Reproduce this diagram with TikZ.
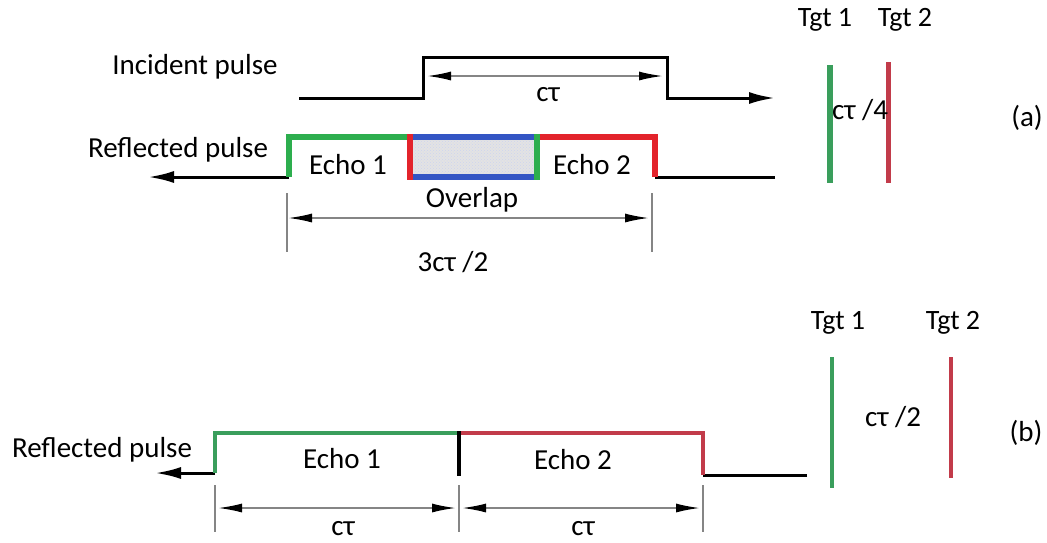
\documentclass[tikz,border=0pt]{standalone}
\usepackage{fontspec}
\setmainfont{Carlito}
\usepackage{xcolor}
\usepackage{tikz}
\usetikzlibrary{arrows.meta, positioning, patterns}
\definecolor{EchoGreen}{HTML}{2DAE4E}
\definecolor{EchoRed}{HTML}{E3232B}
\definecolor{EchoBlue}{HTML}{3355C4}
\definecolor{TgtGreen}{HTML}{3A9E5C}
\definecolor{TgtRed}{HTML}{C23B4A}
\definecolor{DimGray}{HTML}{858585}

\begin{document}
\begin{tikzpicture}[x=1pt, y=-1pt,
  lbl/.style={font=\fontsize{29}{34}\selectfont, inner sep=0pt},
  pulse/.style={black, line width=3pt, line join=miter},
  tip/.style={-{Latex[length=26pt,width=12pt]}},
  dimline/.style={DimGray, line width=1.8pt,
    {Latex[length=24pt,width=9pt,black]}-{Latex[length=24pt,width=9pt,black]}},
  tickline/.style={DimGray, line width=1.8pt}]
  \useasboundingbox (0,0) rectangle (1047,542);
  % (a) Incident pulse
  \node[lbl] (inclbl) at (195,67) {Incident pulse};
  \draw[pulse, tip] (299,98) -- (423,98) -- (423,57) -- (667,57) -- (667,98) -- (775,98);
  \coordinate (incL) at (427,76);
  \coordinate (incR) at (663,76);
  \draw[dimline] (incL) -- (incR);
  \node[lbl] (inctau) at (548,95) {cτ};
  % (a) Reflected pulse
  \node[lbl] (reflbl) at (178,150) {Reflected pulse};
  \fill[gray!22] (410,137) rectangle (537,177);
  \fill[pattern=crosshatch dots, pattern color=EchoBlue!25] (410,137) rectangle (537,177);
  \draw[pulse] (775,177) -- (655,177);
  \draw[pulse, tip] (289,177) -- (148,177);
  \draw[EchoRed, line width=6pt, line join=miter] (655,177) -- (655,137) -- (537,137);
  \draw[EchoGreen, line width=6pt, line join=miter] (410,137) -- (289,137) -- (289,177);
  \draw[EchoBlue, line width=6pt] (407,137) -- (540,137) (407,177) -- (540,177);
  \draw[EchoRed, line width=6pt] (410,134) -- (410,180);
  \draw[EchoGreen, line width=6pt] (537,134) -- (537,180);
  \node[lbl] (echoa1) at (348,165) {Echo 1};
  \node[lbl] (echoa2) at (592,165) {Echo 2};
  \node[lbl] (overlap) at (472,200) {Overlap};
  % (a) span of both echoes
  \foreach \x/\n in {287/dA, 652/dB}{
    \draw[tickline] (\x,193) -- (\x,252);
    \coordinate (\n) at (\x,218);
  }
  \draw[dimline] ([xshift=1pt]dA) -- ([xshift=-3pt]dB);
  \node[lbl] (spana) at (453,262) {3cτ /2};
  % (a) Targets
  \node[lbl, font=\fontsize{28}{34}\selectfont] (tgta1) at (825,20) {Tgt 1};
  \node[lbl, font=\fontsize{28}{34}\selectfont] (tgta2) at (905,20) {Tgt 2};
  \draw[TgtGreen, line width=6pt] (830,65) -- (830,183);
  \draw[TgtRed, line width=5pt] (888,62) -- (888,183);
  \node[lbl] (sepa) at (860,110) {cτ /4};
  \node[lbl] (parta) at (1027,118) {(a)};

  % (b) Reflected pulse
  \node[lbl] (reflblb) at (102,450) {Reflected pulse};
  \draw[pulse] (807,475) -- (703,475);
  \draw[pulse, tip] (215,473) -- (155,473);
  \draw[TgtRed, line width=4pt, line join=miter] (703,475) -- (703,433) -- (459,433);
  \draw[TgtGreen, line width=4pt, line join=miter] (459,433) -- (215,433) -- (215,473);
  \draw[black, line width=4.5pt] (459,431) -- (459,476);
  \node[lbl] (echob1) at (342,459) {Echo 1};
  \node[lbl] (echob2) at (573,460) {Echo 2};
  % (b) echo lengths
  \foreach \x/\n in {215/eA, 459/eB, 703/eC}{
    \draw[tickline] (\x,485) -- (\x,532);
    \coordinate (\n) at (\x,508);
  }
  \draw[dimline] ([xshift=3pt]eA) -- ([xshift=-3pt]eB);
  \draw[dimline] ([xshift=3pt]eB) -- ([xshift=-3pt]eC);
  \node[lbl] (lenb1) at (343,529) {cτ};
  \node[lbl] (lenb2) at (583,529) {cτ};
  % (b) Targets
  \node[lbl, font=\fontsize{28}{34}\selectfont] (tgtb1) at (838,323) {Tgt 1};
  \node[lbl, font=\fontsize{28}{34}\selectfont] (tgtb2) at (953,323) {Tgt 2};
  \draw[TgtGreen, line width=4pt] (832,357) -- (832,488);
  \draw[TgtRed, line width=4pt] (951,357) -- (951,478);
  \node[lbl] (sepb) at (893,417) {cτ /2};
  \node[lbl] (partb) at (1026,433) {(b)};
\end{tikzpicture}
\end{document}
